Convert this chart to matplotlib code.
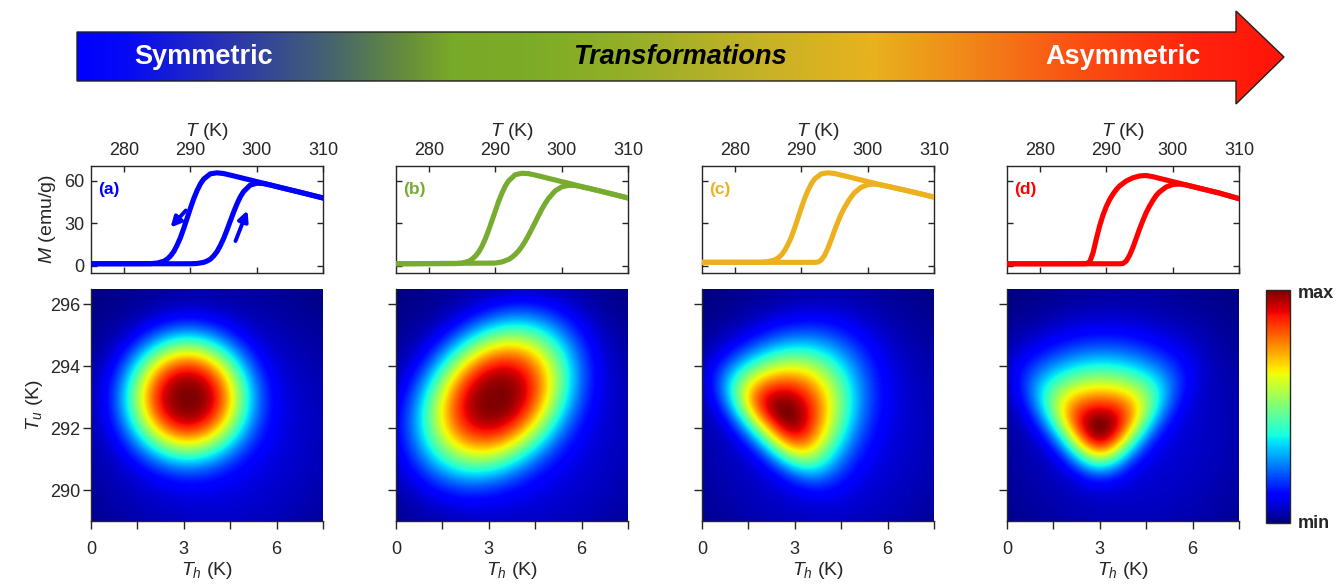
import math
import numpy as np
import matplotlib
matplotlib.use('Agg')
import matplotlib.pyplot as plt
from matplotlib.patches import Polygon

plt.rcParams['font.family'] = ['Liberation Sans', 'DejaVu Sans']
plt.rcParams['mathtext.fontset'] = 'custom'
plt.rcParams['mathtext.rm'] = 'Liberation Sans'
plt.rcParams['mathtext.it'] = 'Liberation Sans:italic'
plt.rcParams['mathtext.bf'] = 'Liberation Sans:bold'

# ---- data: M(T) hysteresis branches (emu/g) ----
T_heat = [275, 290, 291, 292, 292.5, 293, 293.5, 294, 294.5, 295, 295.5, 296, 296.5,
          297, 297.5, 298, 299, 300, 301, 302, 304, 307, 310]
heat_a = [1.5, 1.5, 1.7, 2.5, 3.4, 4.7, 7.0, 10.0, 14.2, 19.2, 25.1, 31.4, 37.6,
          43.4, 48.4, 52.2, 56.8, 58.2, 57.9, 57.0, 54.7, 51.3, 47.8]
heat_b = [1.5, 2.0, 2.8, 4.6, 6.1, 8.1, 10.6, 13.7, 17.4, 21.6, 26.1, 30.7, 35.4,
          39.9, 43.9, 47.4, 52.8, 55.6, 56.7, 56.6, 54.7, 51.3, 47.8]
heat_c = [2.5, 2.5, 2.5, 2.5, 2.7, 4.2, 7.5, 12.5, 18.5, 25.0, 31.0, 36.5, 41.0,
          45.0, 48.5, 51.5, 55.3, 57.2, 57.6, 57.0, 55.0, 51.8, 48.4]
heat_d = [1.5, 1.5, 1.5, 1.5, 1.7, 3.5, 7.5, 13.0, 19.5, 26.0, 32.0, 37.5, 42.0,
          46.0, 49.5, 52.0, 55.5, 57.3, 57.6, 57.0, 54.7, 51.3, 47.3]

T_cool = [275, 284, 285, 286, 286.5, 287, 287.5, 288, 288.5, 289, 289.5, 290, 290.5,
          291, 291.5, 292, 293, 294, 295, 296, 297, 298, 299, 300, 301, 302, 304, 307, 310]
cool_a = [1.5, 1.6, 2.0, 3.3, 4.8, 7.0, 10.2, 14.7, 20.0, 26.5, 33.5, 40.6, 47.3,
          53.0, 57.7, 61.1, 64.8, 65.5, 65.0, 63.9, 62.8, 61.6, 60.5, 59.3, 58.2, 57.0, 54.7, 51.3, 47.8]
cool_b = [1.5, 1.6, 2.0, 3.3, 4.8, 7.0, 9.9, 14.1, 19.3, 25.5, 32.1, 38.9, 45.6,
          51.4, 56.3, 59.9, 64.2, 65.2, 64.9, 63.9, 62.8, 61.6, 60.5, 59.3, 58.2, 57.0, 54.7, 51.3, 47.8]
cool_c = [2.5, 2.6, 3.0, 4.2, 5.7, 7.8, 11.0, 15.4, 20.6, 27.0, 34.0, 41.0, 47.6,
          53.2, 57.8, 61.2, 64.8, 65.5, 65.0, 63.9, 62.8, 61.6, 60.5, 59.3, 58.2, 57.0, 55.0, 51.8, 48.4]
cool_d = [1.5, 1.5, 1.5, 1.5, 1.5, 1.6, 3.0, 9.5, 19.5, 28.5, 36.0, 42.0, 46.8,
          50.6, 53.8, 56.3, 59.8, 62.0, 63.3, 63.6, 62.8, 61.6, 60.5, 59.3, 58.2, 57.0, 54.7, 51.3, 47.3]

heat_M = [heat_a, heat_b, heat_c, heat_d]
cool_M = [cool_a, cool_b, cool_c, cool_d]
panel_tags = ['(a)', '(b)', '(c)', '(d)']
panel_colors = ['#0000FF', '#77AC30', '#EDB120', '#FF0000']

# arrows in panel (a): (T, M) of tail and head
arrow_tail = [(289.3, 39.0), (296.8, 17.5)]
arrow_head = [(287.0, 27.0), (298.6, 39.0)]

# ---- data: hysteron distributions (warming Tw = Tu+Th, cooling Tc = Tu-Th) ----
w_loc = [296.1, 296.2, 293.9, 293.75]
w_scale = [1.88, 2.6, 3.0, 3.0]
w_skew = [0, 0, 4, 4]
c_loc = [289.9, 289.8, 289.85, 287.75]
c_scale = [1.88, 1.94, 2.0, 3.0]
c_skew = [0, 0, 0, 4]
flat_p = [1.35, 1.35, 1.3, 1.3]
bg_amp = [0.15, 0.15, 0.14, 0.12]
bg_th, bg_tu, bg_sig = 4.0, 292.0, 3.5

Th_ticks = [0, 1.5, 3, 4.5, 6, 7.5]
Th_labels = ['0', '', '3', '', '6', '']
Tu_ticks = [290, 292, 294, 296]
T_ticks = [280, 290, 300, 310]
M_ticks = [0, 30, 60]

# arrow banner colour stops (fraction along arrow, RGB)
grad_pos = [0.0, 0.04, 0.12, 0.21, 0.27, 0.31, 0.37, 0.46, 0.56, 0.66, 0.73, 0.83, 0.93, 1.0]
grad_rgb = [(0, 0, 255), (5, 10, 245), (40, 50, 180), (70, 100, 110), (100, 140, 60),
            (120, 170, 40), (122, 172, 38), (150, 175, 40), (195, 178, 40), (232, 178, 30),
            (240, 140, 25), (250, 80, 18), (255, 35, 12), (255, 20, 10)]

W, H = 1343, 586
fig = plt.figure(figsize=(W / 100, H / 100), dpi=100)
ink = '#262626'


def box(x0, y0, x1, y1):
    return [x0 / W, 1 - y1 / H, (x1 - x0) / W, (y1 - y0) / H]


erf = np.vectorize(math.erf)


def density(i, TH, TU):
    zw = (TU + TH - w_loc[i]) / w_scale[i]
    zc = (TU - TH - c_loc[i]) / c_scale[i]
    core = np.exp(-((zw ** 2 + zc ** 2) / 2) ** flat_p[i])
    skew = (1 + erf(w_skew[i] * zw / np.sqrt(2))) * (1 + erf(c_skew[i] * zc / np.sqrt(2)))
    return core * skew


# ---- banner arrow ----
ax0 = fig.add_axes([0, 0, 1, 1])
ax0.axis('off')
ax_l, ax_r, body_t, body_b, head_t, head_b, head_x, tip_y = 77, 1284, 32, 81, 11, 104, 1236, 57
pts = [(ax_l, body_t), (head_x, body_t), (head_x, head_t), (ax_r, tip_y),
       (head_x, head_b), (head_x, body_b), (ax_l, body_b)]
poly = Polygon(pts, closed=True, facecolor='none', edgecolor='#202020', lw=1.0, zorder=3)
ax0.add_patch(poly)
xs = np.linspace(0, 1, 600)
grad = np.stack([np.interp(xs, grad_pos, [c[k] / 255 for c in grad_rgb]) for k in range(3)], axis=-1)
im0 = ax0.imshow(grad[None, :, :], extent=(ax_l, ax_r, head_b, head_t), aspect='auto',
                 interpolation='bilinear', zorder=2)
im0.set_clip_path(poly)
ax0.set_xlim(0, W)
ax0.set_ylim(H, 0)
ax0.text(204, 57, 'Symmetric', color='white', fontsize=19.5, fontweight='bold',
         ha='center', va='center', zorder=4)
ax0.text(680, 57, 'Transformations', color='black', fontsize=19.5, fontweight='bold',
         fontstyle='italic', ha='center', va='center', zorder=4)
ax0.text(1123, 57, 'Asymmetric', color='white', fontsize=19.5, fontweight='bold',
         ha='center', va='center', zorder=4)

lefts = [91, 396, 702, 1007]
pw = 232

th = np.linspace(0, 7.5, 301)
tu = np.linspace(289, 296.5, 301)
TH, TU = np.meshgrid(th, tu)

for i in range(4):
    col = panel_colors[i]
    # ---- M(T) panel ----
    ax = fig.add_axes(box(lefts[i], 166, lefts[i] + pw, 273))
    ax.plot(T_cool, cool_M[i], color=col, lw=3.7, solid_joinstyle='round', zorder=3)
    ax.plot(T_heat, heat_M[i], color=col, lw=3.7, solid_joinstyle='round', zorder=3)
    ax.set_xlim(275, 310)
    ax.set_ylim(-5, 70.3)
    ax.set_xticks(T_ticks)
    ax.set_yticks(M_ticks)
    ax.xaxis.set_label_position('top')
    ax.tick_params(direction='in', top=True, bottom=True, left=True, right=True,
                   labeltop=True, labelbottom=False, labelleft=(i == 0),
                   length=4, width=1, color=ink, labelcolor=ink, labelsize=13, pad=5)
    for s in ax.spines.values():
        s.set_color(ink)
        s.set_linewidth(1)
    ax.set_xlabel('$T$ (K)', fontsize=14, color=ink, labelpad=4)
    if i == 0:
        ax.set_ylabel('$M$ (emu/g)', fontsize=14, color=ink, labelpad=4)
        for (t0, m0), (t1, m1) in zip(arrow_tail, arrow_head):
            ax.annotate('', xy=(t1, m1), xytext=(t0, m0),
                        arrowprops=dict(arrowstyle='-|>', color=col, lw=2.8,
                                        mutation_scale=15, shrinkA=0, shrinkB=0))
    ax.text(0.03, 0.78, panel_tags[i], transform=ax.transAxes, color=col,
            fontsize=12.5, fontweight='bold', ha='left', va='center')

    # ---- distribution map ----
    hx = fig.add_axes(box(lefts[i], 289, lefts[i] + pw, 521))
    Z = density(i, TH, TU)
    Z = Z / Z.max()
    Z = Z + bg_amp[i] * np.exp(-((TH - bg_th) ** 2 + (TU - bg_tu) ** 2) / (2 * bg_sig ** 2))
    im = hx.imshow(Z, extent=[0, 7.5, 289, 296.5], origin='lower', cmap='jet',
                   aspect='auto', interpolation='bilinear', vmin=Z.min(), vmax=Z.max())
    hx.set_xlim(0, 7.5)
    hx.set_ylim(289, 296.5)
    hx.set_xticks(Th_ticks)
    hx.set_xticklabels(Th_labels)
    hx.set_yticks(Tu_ticks)
    hx.spines['top'].set_visible(False)
    hx.spines['right'].set_visible(False)
    for s in ['left', 'bottom']:
        hx.spines[s].set_color(ink)
        hx.spines[s].set_linewidth(1)
    hx.tick_params(direction='out', length=5.5, width=1, color=ink, labelcolor=ink,
                   labelsize=13, labelleft=(i == 0))
    hx.tick_params(axis='x', pad=9)
    hx.tick_params(axis='y', pad=2)
    hx.set_xlabel('$T_h$ (K)', fontsize=14, color=ink, labelpad=1)
    if i == 0:
        hx.set_ylabel('$T_u$ (K)', fontsize=14, color=ink, labelpad=4)

# ---- colour bar ----
cax = fig.add_axes(box(1266, 290, 1290, 523))
cb = fig.colorbar(im, cax=cax)
cb.set_ticks([])
cb.outline.set_edgecolor(ink)
cb.outline.set_linewidth(1)
fig.text(1298 / W, 1 - 293 / H, 'max', fontsize=13, fontweight='bold', color=ink,
         ha='left', va='center')
fig.text(1298 / W, 1 - 524 / H, 'min', fontsize=13, fontweight='bold', color=ink,
         ha='left', va='center')

fig.savefig('out.png', dpi=100)
